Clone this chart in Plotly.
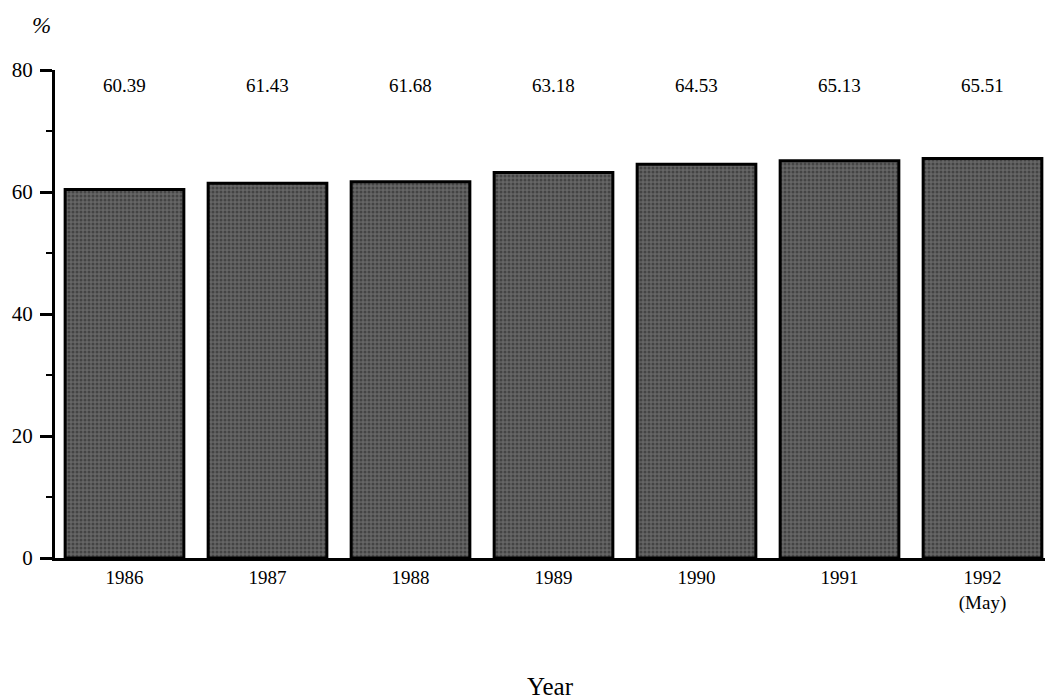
import plotly.graph_objects as go

# Share of the population (%) by year
years = ["1986", "1987", "1988", "1989", "1990", "1991", "1992<br>(May)"]
shares = [60.39, 61.43, 61.68, 63.18, 64.53, 65.13, 65.51]
y_ticks = [0, 20, 40, 60, 80]

SERIF = "Liberation Serif, Times New Roman, serif"

fig = go.Figure()
fig.add_trace(go.Bar(
    x=list(range(len(years))),
    y=shares,
    width=0.83,
    marker=dict(
        color="#5e5e5e",
        line=dict(color="black", width=3),
        pattern=dict(shape=".", fgcolor="#222222", bgcolor="#666666",
                     size=4, solidity=0.45),
    ),
    hoverinfo="skip",
))

# value labels sit on a common line above the bars
for i, v in enumerate(shares):
    fig.add_annotation(x=i, y=77.5, text=f"{v:.2f}", showarrow=False,
                       xref="x", yref="y", yanchor="middle",
                       font=dict(family=SERIF, size=19, color="black"))

# unit marker above the y axis
fig.add_annotation(x=-0.014, y=1.092, xref="paper", yref="paper",
                   text="<i>%</i>", showarrow=False,
                   xanchor="center", yanchor="middle",
                   font=dict(family=SERIF, size=23, color="black"))

fig.update_layout(
    width=1045, height=700,
    margin=dict(l=55, r=0, t=70, b=142),
    paper_bgcolor="white", plot_bgcolor="white",
    showlegend=False,
    xaxis=dict(
        range=[-0.486, 6.437],
        tickmode="array",
        tickvals=list(range(len(years))),
        ticktext=years,
        showgrid=False, zeroline=False,
        showline=True, linecolor="black", linewidth=3,
        ticks="", ticklen=0,
        tickfont=dict(family=SERIF, size=19, color="black"),
        title=dict(text="Year", standoff=70,
                   font=dict(family=SERIF, size=25, color="black")),
    ),
    yaxis=dict(
        range=[0, 80],
        tickmode="array",
        tickvals=y_ticks,
        showgrid=False, zeroline=False,
        showline=True, linecolor="black", linewidth=3,
        ticks="outside", ticklen=12, tickwidth=3, tickcolor="black",
        ticklabelstandoff=3,
        tickfont=dict(family=SERIF, size=21, color="black"),
        minor=dict(dtick=10, tick0=0, ticks="outside", ticklen=6,
                   tickwidth=2, tickcolor="black"),
    ),
)

fig.write_html("out.html")
